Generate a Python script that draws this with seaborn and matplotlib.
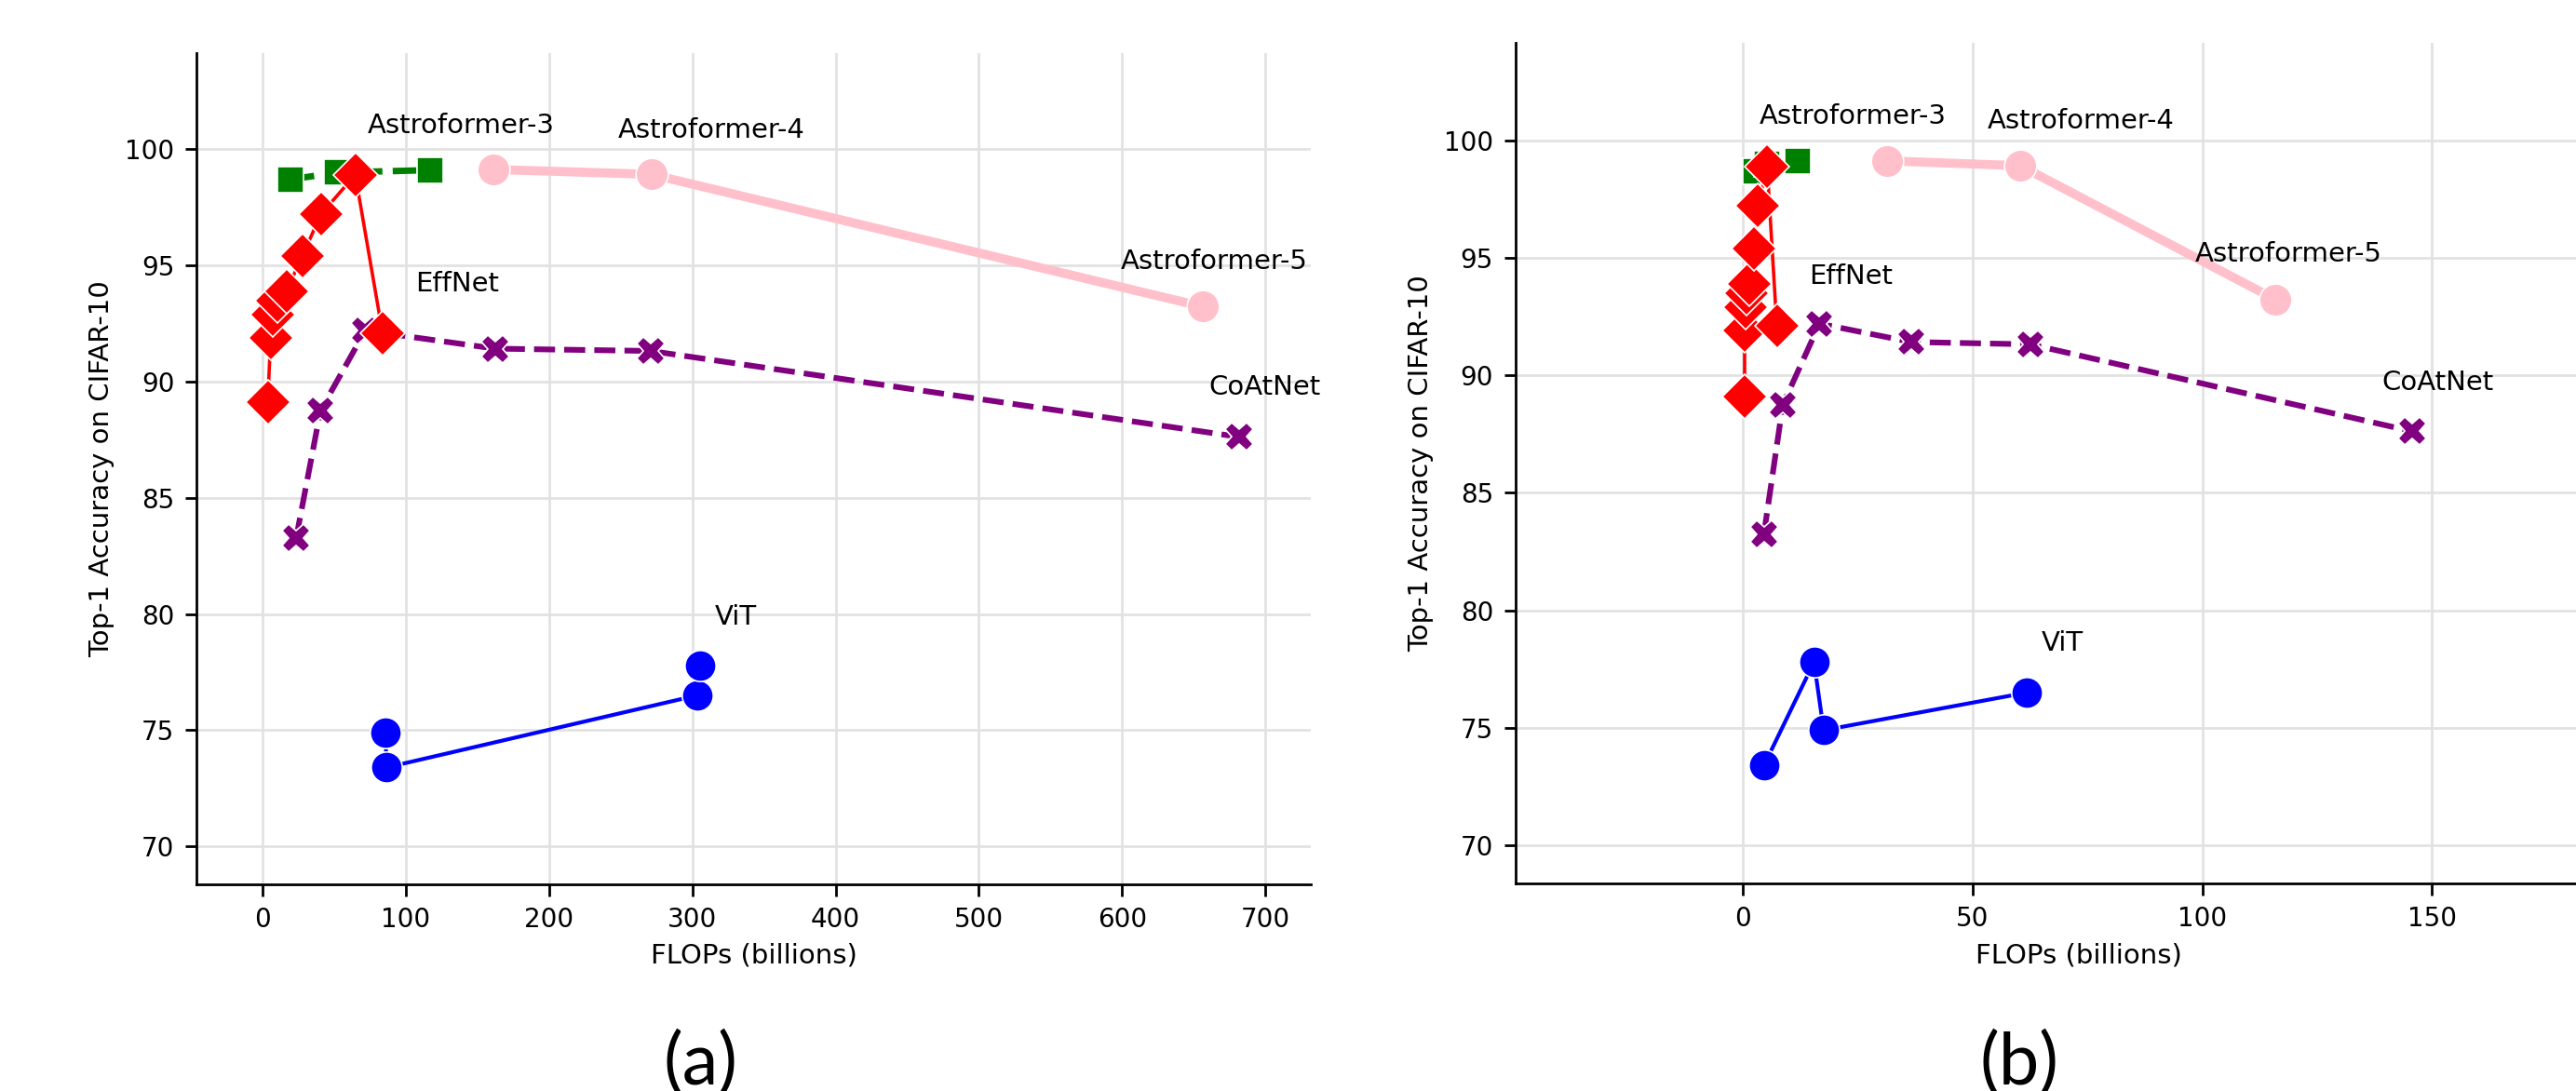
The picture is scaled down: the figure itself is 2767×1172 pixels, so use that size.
import matplotlib
matplotlib.use("Agg")
import matplotlib.pyplot as plt
import seaborn as sns

# ---------------------------------------------
# Data
# acc = top-1 accuracy on CIFAR-10
# x_a = value on panel (a), x_b = value on panel (b)
# ---------------------------------------------
effnet_acc = [89.1, 91.9, 92.9, 93.5, 93.9, 95.4, 97.2, 98.9, 92.1]
effnet_x_a = [3.9, 6.0, 7.5, 11.0, 17.0, 28.0, 41.0, 65.0, 84.0]
effnet_x_b = [0.4, 0.4, 0.6, 0.8, 1.4, 2.5, 3.3, 5.3, 7.4]

green_acc = [98.7, 99.0, 99.1]
green_x_a = [19.8, 52.5, 117.0]
green_x_b = [2.9, 5.3, 12.0]

astro_acc = [99.13, 98.92, 93.23]
astro_x_a = [161.5, 271.5, 656.0]
astro_x_b = [31.3, 60.4, 115.9]

coatnet_acc = [83.25, 88.75, 92.2, 91.42, 91.32, 87.62]
coatnet_x_a = [23.7, 40.7, 72.0, 162.6, 271.0, 681.6]
coatnet_x_b = [4.6, 8.7, 16.7, 36.6, 62.6, 145.6]

vit_acc = [74.9, 73.4, 76.5, 77.8]
vit_x_a = [85.9, 86.9, 303.4, 305.5]
vit_x_b = [17.6, 4.6, 61.8, 15.5]

x_ticks_a = [0, 100, 200, 300, 400, 500, 600, 700]
x_ticks_b = [0, 50, 100, 150]
y_ticks = [70, 75, 80, 85, 90, 95, 100]

series = {
    "ViT": (vit_x_a, vit_x_b, vit_acc),
    "CoAtNet": (coatnet_x_a, coatnet_x_b, coatnet_acc),
    "green": (green_x_a, green_x_b, green_acc),
    "EffNet": (effnet_x_a, effnet_x_b, effnet_acc),
    "Astroformer": (astro_x_a, astro_x_b, astro_acc),
}

styles = {
    "ViT": dict(color="blue", marker="o", markersize=12, linewidth=1.5, linestyle="-"),
    "CoAtNet": dict(color="purple", marker="X", markersize=11, linewidth=2.2, linestyle="--"),
    "green": dict(color="green", marker="s", markersize=10, linewidth=2.5, linestyle="--"),
    "EffNet": dict(color="red", marker="D", markersize=12, linewidth=1.3, linestyle="-"),
    "Astroformer": dict(color="pink", marker="o", markersize=12.5, linewidth=3.5, linestyle="-"),
}

# label positions (data coords) for each panel
labels_a = [("Astroformer-3", 73.6, 100.69), ("Astroformer-4", 248.1, 100.5),
            ("EffNet", 106.9, 93.87), ("Astroformer-5", 599.2, 94.85),
            ("CoAtNet", 660.2, 89.42), ("ViT", 316.0, 79.55)]
labels_b = [("Astroformer-3", 3.5, 100.71), ("Astroformer-4", 53.2, 100.51),
            ("EffNet", 14.5, 93.88), ("Astroformer-5", 98.5, 94.84),
            ("CoAtNet", 139.1, 89.38), ("ViT", 65.0, 78.3)]

sns.set_style("ticks", {"axes.grid": True, "grid.color": "#e2e2e2",
                        "axes.edgecolor": "black", "text.color": "black",
                        "axes.labelcolor": "black"})
plt.rcParams["font.family"] = ["DejaVu Sans"]
plt.rcParams["grid.linewidth"] = 1.0
plt.rcParams["axes.linewidth"] = 1.0

fig = plt.figure(figsize=(13.835, 5.86), dpi=200)
ax_a = fig.add_axes([0.07626, 0.18942, 0.43259, 0.76220])
ax_b = fig.add_axes([0.58825, 0.19002, 0.43741, 0.77073])


def draw_panel(ax, idx, labels, xlim, xticks):
    for name, vals in series.items():
        sns.lineplot(x=vals[idx], y=vals[2], ax=ax, estimator=None, sort=True,
                     markeredgewidth=0.6, **styles[name])
    for txt, tx, ty in labels:
        ax.text(tx, ty, txt, fontsize=10.5, ha="left", va="baseline", color="black")
    ax.set_xlim(*xlim)
    ax.set_ylim(68.37, 104.15)
    ax.set_xticks(xticks)
    ax.set_yticks(y_ticks)
    ax.tick_params(labelsize=10, length=4.5, width=1.0, pad=4, colors="black")
    ax.set_xlabel("FLOPs (billions)", fontsize=10.5, color="black")
    ax.set_ylabel("Top-1 Accuracy on CIFAR-10", fontsize=10.5, color="black")
    ax.grid(True, color="#e2e2e2", linewidth=1.0)
    sns.despine(ax=ax)


draw_panel(ax_a, 0, labels_a, (-45.8, 731.5), x_ticks_a)
draw_panel(ax_b, 1, labels_b, (-49.5, 195.7), x_ticks_b)

fig.text(0.2718, 0.006, "(a)", ha="center", va="baseline", fontsize=28,
         family="Lato", weight="normal", color="black")
fig.text(0.7839, 0.006, "(b)", ha="center", va="baseline", fontsize=28,
         family="Lato", weight="normal", color="black")

fig.savefig("out.png", dpi=200)
